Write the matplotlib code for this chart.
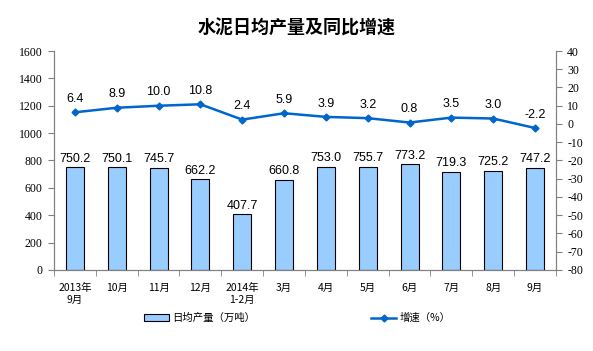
import matplotlib.pyplot as plt
import numpy as np
from matplotlib.patches import Patch
from matplotlib.lines import Line2D

# data
months = ['2013年\n9月', '10月', '11月', '12月', '2014年\n1-2月', '3月',
          '4月', '5月', '6月', '7月', '8月', '9月']
output = [750.2, 750.1, 745.7, 662.2, 407.7, 660.8, 753.0, 755.7, 773.2, 719.3, 725.2, 747.2]
growth = [6.4, 8.9, 10.0, 10.8, 2.4, 5.9, 3.9, 3.2, 0.8, 3.5, 3.0, -2.2]

cjk = ['Noto Sans CJK SC', 'DejaVu Sans']
plt.rcParams['font.family'] = cjk
plt.rcParams['axes.unicode_minus'] = False

fig = plt.figure(figsize=(5.93, 3.51), dpi=100)
ax = fig.add_axes([0.091, 0.2308, 0.8466, 0.6239])
ax2 = ax.twinx()

x = np.arange(len(months))
ax.bar(x, output, width=0.43, color='#99ccff', edgecolor='black', linewidth=0.8, zorder=2)
for xi, v in zip(x, output):
    ax.text(xi, v + 18, f'{v:.1f}', ha='center', va='bottom', fontsize=9,
            family='Liberation Sans')

ax2.plot(x, growth, color='#0066cc', linewidth=1.8, marker='D', markersize=3.5, zorder=3)
for xi, v in zip(x, growth):
    ax2.text(xi, v + 4, f'{v:.1f}', ha='center', va='bottom', fontsize=9,
             family='Liberation Sans')

ax.set_xlim(-0.5, len(months) - 0.5)
ax.set_ylim(0, 1600)
ax.set_yticks(np.arange(0, 1601, 200))
ax2.set_ylim(-80, 40)
ax2.set_yticks(np.arange(-80, 41, 10))

ax.set_xticks(x)
ax.set_xticklabels(months, fontsize=7.5, linespacing=1.35)
ax.set_xticks(np.arange(-0.5, len(months), 1), minor=True)
ax.tick_params(axis='x', which='major', length=0, pad=9)
ax.tick_params(axis='x', which='minor', length=4, direction='out', color='#808080')

for a in (ax, ax2):
    for lab in a.get_yticklabels():
        lab.set_family('Liberation Serif')
        lab.set_fontsize(8.5)
    a.tick_params(axis='y', length=4, color='#808080', pad=4)
    for s in a.spines.values():
        s.set_color('#808080')
    a.spines['top'].set_visible(False)

fig.text(0.5, 0.92, '水泥日均产量及同比增速', ha='center', va='center',
         fontsize=13, fontweight='bold')

# two legend entries placed separately, as in the reference
bar_handle = Patch(facecolor='#99ccff', edgecolor='black', linewidth=0.8)
line_handle = Line2D([0], [0], color='#0066cc', linewidth=1.8, marker='D', markersize=3.5)
leg1 = fig.legend([bar_handle], ['日均产量（万吨）'], loc='center left',
                  bbox_to_anchor=(144 / 593, 0.094), frameon=False, fontsize=7.5,
                  borderpad=0, borderaxespad=0, handlelength=2.4, handletextpad=0.3)
leg2 = fig.legend([line_handle], ['增速（%）'], loc='center left',
                  bbox_to_anchor=(371 / 593, 0.094), frameon=False, fontsize=7.5,
                  borderpad=0, borderaxespad=0, handlelength=2.4, handletextpad=0.3)

fig.savefig('out.png', dpi=100)
